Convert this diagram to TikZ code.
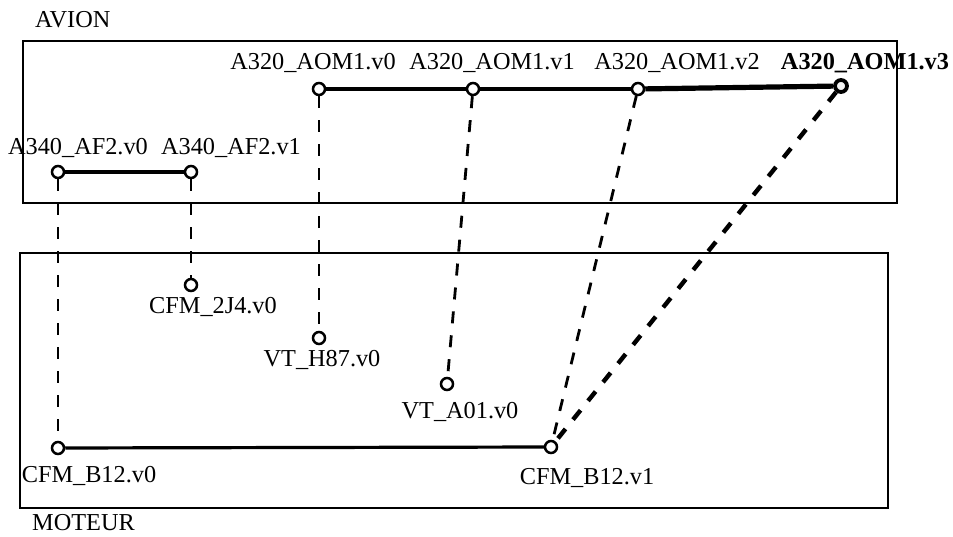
\documentclass[tikz,border=0pt]{standalone}
\usepackage{fontspec}
\setmainfont{Liberation Serif}
\begin{document}
\begin{tikzpicture}[x=1pt,y=-1pt,
  ver/.style={circle,draw,line width=2.5pt,fill=white,minimum size=12pt,inner sep=0pt},
  verb/.style={ver,line width=3.8pt,fill=gray!8},
  lbl/.style={anchor=base,inner sep=0pt,font=\fontsize{24.3}{28}\selectfont},
  boxst/.style={draw,line width=2.2pt},
  link/.style={line width=3.2pt},
  linkb/.style={line width=5.2pt},
  dep/.style={line width=2.8pt,dash pattern=on 12pt off 12pt},
  depb/.style={line width=4.4pt,dash pattern=on 12pt off 12pt}]
\useasboundingbox (0,0) rectangle (953,537);
% boxes
\node[boxst,anchor=north west,minimum width=874pt,minimum height=162pt,inner sep=0pt] (avionbox) at (22,40) {};
\node[boxst,anchor=north west,minimum width=868pt,minimum height=255pt,inner sep=0pt] (moteurbox) at (19,252) {};
\node[lbl,anchor=base west] (avion) at (35,28) {AVION};
\node[lbl,anchor=base west] (moteur) at (32,530) {MOTEUR};
% vertices
\node[ver] (af0) at (58,172) {};
\node[ver] (af1) at (191,172) {};
\node[ver] (aom0) at (319,89) {};
\node[ver] (aom1) at (473,89) {};
\node[ver] (aom2) at (638,89) {};
\node[verb] (aom3) at (841,86) {};
\node[ver] (cfm2j4) at (191,285) {};
\node[ver] (vth87) at (319,338) {};
\node[ver] (vta01) at (447,384) {};
\node[ver] (b0) at (58,448) {};
\node[ver] (b1) at (551,447) {};
% labels
\node[lbl] (laf0) at (78,155) {A340\_AF2.v0};
\node[lbl] (laf1) at (231,155) {A340\_AF2.v1};
\node[lbl] (laom0) at (313,70) {A320\_AOM1.v0};
\node[lbl] (laom1) at (492,70) {A320\_AOM1.v1};
\node[lbl] (laom2) at (677,70) {A320\_AOM1.v2};
\node[lbl,font=\fontsize{24.3}{28}\selectfont\bfseries] (laom3) at (865,70) {A320\_AOM1.v3};
\node[lbl] (lcfm2j4) at (213,313) {CFM\_2J4.v0};
\node[lbl] (lvth87) at (322,366) {VT\_H87.v0};
\node[lbl] (lvta01) at (460,418) {VT\_A01.v0};
\node[lbl] (lb0) at (89,482) {CFM\_B12.v0};
\node[lbl] (lb1) at (587,484) {CFM\_B12.v1};
% solid links
\draw[link] (af0) -- (af1);
\draw[link] (aom0) -- (aom1);
\draw[link] (aom1) -- (aom2);
\draw[linkb] (aom2) -- (aom3);
\draw[link] (b0) -- (b1);
% dashed links
\draw[dep] (af0) -- (b0);
\draw[dep] (af1) -- (cfm2j4);
\draw[dep] (aom0) -- (vth87);
\draw[dep] (aom1) -- (vta01);
\draw[dep] (aom2) -- (b1);
\draw[depb] (aom3) -- (b1);
\end{tikzpicture}
\end{document}
